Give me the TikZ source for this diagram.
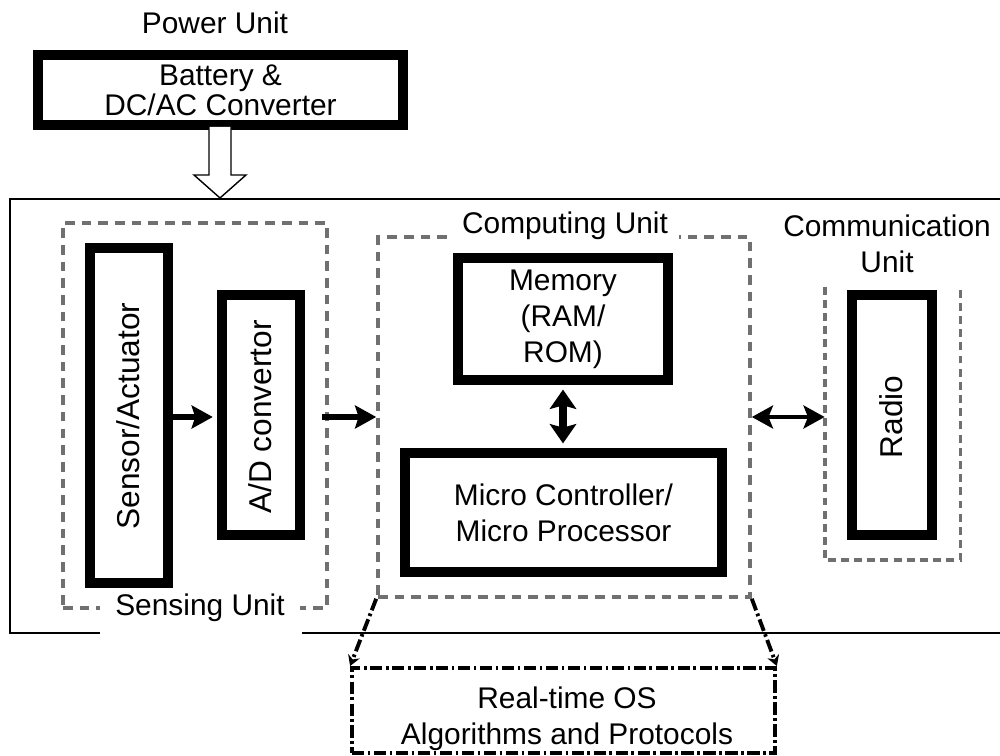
\documentclass[tikz,border=0pt]{standalone}
\usepackage{fontspec}
\setmainfont{Liberation Sans}
\usetikzlibrary{arrows.meta}
\definecolor{dgray}{RGB}{112,112,112}
\tikzset{
  txt/.style={font=\fontsize{17}{20.4}\selectfont, align=center, inner sep=0pt},
  rtxt/.style={font=\fontsize{18}{20.4}\selectfont, inner sep=0pt, rotate=90},
  thickbox/.style={draw, line width=5.5pt, inner sep=0pt, font=\fontsize{17}{20.4}\selectfont, align=center},
  unitbox/.style={draw=dgray, line width=2.1pt, dash pattern=on 5.5pt off 4pt, inner sep=0pt},
  openbox/.style={inner sep=0pt},
  unitlabel/.style={txt, fill=white},
  arr/.style={line width=3.4pt, -{Stealth[length=12pt, width=13pt, inset=2pt]}},
  darr/.style={line width=2.8pt, {Stealth[length=12pt, width=13pt, inset=2.5pt]}-{Stealth[length=12pt, width=13pt, inset=2.5pt]}},
  bigdarr/.style={line width=5pt, {Stealth[length=11pt, width=15pt, inset=2pt]}-{Stealth[length=11pt, width=15pt, inset=2pt]}},
  dashdot/.style={line width=2.2pt, dash pattern=on 7pt off 2pt on 1.5pt off 2pt},
  ddarr/.style={dashdot, -{Stealth[length=6pt, width=7pt]}},
  frame/.style={line width=0.9pt},
}
\begin{document}
\begin{tikzpicture}[x=0.02cm, y=-0.02cm]
\useasboundingbox (0,0) rectangle (1000,756);

% outer frame (open at the right)
\draw[frame] (1000,199) -- (10,199) -- (10,633) -- (100,633);
\draw[frame] (302,633) -- (1000,633);

% power unit
\node[txt] (powerlabel) at (215,23) {Power Unit};
\node[thickbox, minimum width=7.3cm, minimum height=1.4cm,
      font=\fontsize{17}{17}\selectfont] (battery) at (220.5,90) {Battery \&\\DC/AC Converter};
\draw[line width=0.8pt, fill=white, line join=miter]
  (209,127) -- (209,175) -- (194,175) -- (220,198) -- (246,175) -- (231,175) -- (231,127);

% sensing unit
\node[unitbox, minimum width=5.28cm, minimum height=7.7cm] (sensing) at (195,415.5) {};
\node[unitlabel, inner xsep=9pt, inner ysep=2pt] (sensinglabel) at (200,608) {Sensing Unit};
\node[thickbox, minimum width=1.56cm, minimum height=6.7cm] (sensor) at (129,415.5) {};
\node[rtxt] (sensortext) at (128,416) {Sensor/Actuator};
\node[thickbox, minimum width=1.56cm, minimum height=4.8cm] (ad) at (261,415) {};
\node[rtxt] (adtext) at (260,417) {A/D convertor};
\draw[arr] (sensor.east |- 0,417) -- ([xshift=-2.5pt]ad.west |- 0,417);

% computing unit
\node[unitbox, minimum width=7.44cm, minimum height=7.2cm] (computing) at (564,417) {};
\node[unitlabel, inner xsep=6.5pt, inner ysep=2pt] (computinglabel) at (565,226) {Computing Unit};
\node[thickbox, minimum width=4.2cm, minimum height=2.44cm] (memory) at (563,319) {Memory\\(RAM/\\ROM)};
\node[thickbox, minimum width=6.34cm, minimum height=2.38cm] (micro) at (563.5,512.5) {Micro Controller/\\Micro Processor};
\draw[bigdarr] ([yshift=-2.7pt]memory.south) -- ([yshift=2.7pt]memory.south |- micro.north);
\draw[arr] (322,417) -- (computing.west |- 0,417);

% communication unit
\node[openbox, minimum width=2.7cm, minimum height=5.46cm] (comm) at (892.5,423.5) {};
\draw[unitbox, dash pattern=on 4.5pt off 3pt] (comm.north west) -- (comm.south west) -- (comm.south east) -- (comm.north east);
\node[txt] (commlabel) at (887,244) {Communication\\Unit};
\node[thickbox, minimum width=1.6cm, minimum height=4.8cm] (radio) at (892,415) {};
\node[rtxt] (radiotext) at (891,417) {Radio};
\draw[darr] (computing.east |- 0,417) -- (comm.west |- 0,417);

% OS box
\node[draw, dashdot, minimum width=8.46cm, minimum height=1.7cm, inner sep=0pt] (os) at (563.5,710.5) {};
\node[txt] (ostext) at (567,719) {Real-time OS\\Algorithms and Protocols};
\draw[ddarr] (computing.south west) -- (os.north west);
\draw[ddarr] (computing.south east) -- (os.north east);
\end{tikzpicture}
\end{document}
